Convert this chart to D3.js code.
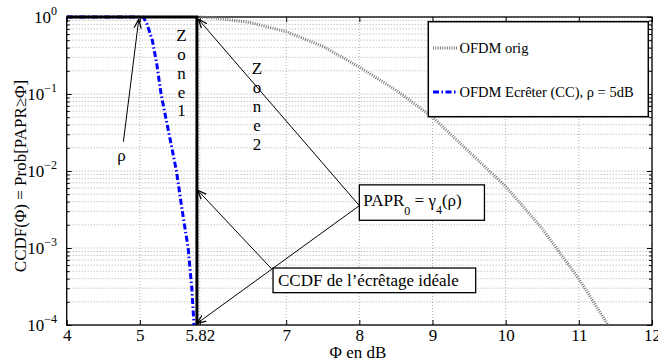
<!DOCTYPE html>
<html><head><meta charset="utf-8">
<script src="https://cdn.jsdelivr.net/npm/d3@7"></script>
<style>body{margin:0;background:#fff}svg{display:block}text{font-family:"Liberation Serif","Times New Roman",serif;fill:#000}</style>
</head><body><svg id="c" width="658" height="362" font-family="Liberation Serif"></svg>
<script>
// ---- data ----
const xTickValues = [4, 5, 5.82, 7, 8, 9, 10, 11, 12];
const xTickLabels = ["4", "5", "5.82", "7", "8", "9", "10", "11", "12"];
const yDecades = [0, -1, -2, -3, -4];
const yTickLabels = ["0", "\u22121", "\u22122", "\u22123", "\u22124"];
// OFDM orig: [Φ dB, log10 CCDF]
const origPhi = [5.82, 6.0, 6.5, 7.0, 7.5, 8.0, 8.5, 9.0, 9.5, 10.0, 10.5, 11.0, 11.4];
const origLog = [0, -0.01, -0.07, -0.19, -0.38, -0.65, -0.95, -1.3, -1.75, -2.2, -2.75, -3.4, -4.0];
// OFDM clipped (CC), rho = 5 dB
const clipPhi = [4.0, 5.0, 5.05, 5.1, 5.17, 5.23, 5.29, 5.4, 5.5, 5.58, 5.66, 5.71, 5.74];
const clipVal = [1, 1, 0.99, 0.8, 0.5, 0.25, 0.1, 0.03, 0.01, 0.003, 0.001, 3e-4, 1e-4];
// ideal clipping CCDF
const idealPhi = [4.0, 5.78, 5.78];
const idealVal = [1, 1, 1e-4];
const seriesNames = ["OFDM orig", "OFDM Ecrêter (CC), \u03c1 = 5dB"];

const svg = d3.select("#c");
const L = 66.7, R = 652, T = 17, B = 325;
const x = d3.scaleLinear().domain([4, 12]).range([L, R]);
const y = d3.scaleLog().domain([1e-4, 1]).range([B, T]);
const FF = "Liberation Serif";

// grid
const minors = [];
for (let d = -4; d < 0; d++) for (let k = 1; k <= 9; k++) minors.push(k * Math.pow(10, d));
minors.push(1);
const grid = svg.append("g").attr("stroke", "#999").attr("stroke-width", 0.8).attr("stroke-dasharray", "1,2");
grid.selectAll("line.gx").data(xTickValues).join("line")
  .attr("x1", d => x(d)).attr("x2", d => x(d)).attr("y1", T).attr("y2", B);
grid.selectAll("line.gy").data(minors).join("line")
  .attr("x1", L).attr("x2", R).attr("y1", d => y(d)).attr("y2", d => y(d));

// axes ticks (inward)
const axB = d3.axisBottom(x).tickValues(xTickValues).tickSizeInner(-5).tickSizeOuter(0).tickPadding(4)
  .tickFormat((d, i) => xTickLabels[i]);
const gB = svg.append("g").attr("transform", `translate(0,${B})`).call(axB);
gB.attr("font-family", FF);
gB.selectAll("text").attr("font-size", 17).attr("font-family", FF);
const axT = d3.axisTop(x).tickValues(xTickValues).tickSizeInner(-5).tickSizeOuter(0).tickFormat("");
svg.append("g").attr("transform", `translate(0,${T})`).call(axT);
const minorOnly = minors.filter(v => !yDecades.some(d => Math.abs(Math.log10(v) - d) < 1e-9));
const axL = d3.axisLeft(y).tickValues(yDecades.map(d => Math.pow(10, d))).tickSizeInner(-5).tickSizeOuter(0).tickFormat("");
svg.append("g").attr("transform", `translate(${L},0)`).call(axL);
svg.append("g").attr("transform", `translate(${L},0)`).call(d3.axisLeft(y).tickValues(minorOnly).tickSizeInner(-3).tickSizeOuter(0).tickFormat(""));
svg.append("g").attr("transform", `translate(${R},0)`).call(d3.axisRight(y).tickValues(yDecades.map(d => Math.pow(10, d))).tickSizeInner(-5).tickSizeOuter(0).tickFormat(""));
svg.append("g").attr("transform", `translate(${R},0)`).call(d3.axisRight(y).tickValues(minorOnly).tickSizeInner(-3).tickSizeOuter(0).tickFormat(""));
svg.selectAll(".domain").remove();
svg.selectAll(".tick line").attr("stroke", "#000");

// y tick labels
const yl = svg.append("g").attr("font-size", 17).attr("font-family", FF);
yDecades.forEach((d, i) => {
  const t = yl.append("text").attr("x", 57).attr("y", y(Math.pow(10, d)) + 6).attr("text-anchor", "end");
  t.append("tspan").text("10");
  t.append("tspan").attr("dy", -8).attr("font-size", 12).text(yTickLabels[i]);
});

// frame
svg.append("rect").attr("x", L).attr("y", T).attr("width", R - L).attr("height", B - T)
  .attr("fill", "none").attr("stroke", "#000").attr("stroke-width", 1.3);

// series
const lineLog = d3.line().x(d => x(d[0])).y(d => y(Math.pow(10, d[1])));
const lineV = d3.line().x(d => x(d[0])).y(d => y(d[1]));
svg.append("path").attr("d", lineLog(d3.zip(origPhi, origLog))).attr("fill", "none")
  .attr("stroke", "#7a7a7a").attr("stroke-width", 3).attr("stroke-dasharray", "1,1.3");
svg.append("path").attr("d", lineV(d3.zip(clipPhi, clipVal))).attr("fill", "none")
  .attr("stroke", "#0000ff").attr("stroke-width", 3).attr("stroke-dasharray", "6,2.5,1.5,2.5");
svg.append("path").attr("d", lineV(d3.zip(idealPhi, idealVal))).attr("fill", "none")
  .attr("stroke", "#000").attr("stroke-width", 3);

// arrows
const defs = svg.append("defs");
defs.append("marker").attr("id", "ah").attr("viewBox", "0 0 10 10").attr("refX", 10).attr("refY", 5)
  .attr("markerWidth", 9).attr("markerHeight", 9).attr("markerUnits", "userSpaceOnUse").attr("orient", "auto")
  .append("path").attr("d", "M0,1 L10,5 L0,9").attr("fill", "none").attr("stroke", "#000").attr("stroke-width", 1.4);
function arrow(p0, l0, p1, l1) {
  svg.append("line").attr("x1", x(p0)).attr("y1", y(Math.pow(10, l0))).attr("x2", x(p1)).attr("y2", y(Math.pow(10, l1)))
    .attr("stroke", "#000").attr("stroke-width", 1).attr("marker-end", "url(#ah)");
}
arrow(4.775, -1.62, 4.985, -0.03);
arrow(8.0, -2.45, 5.8, -0.03);
arrow(8.0, -2.45, 5.78, -3.98);
arrow(6.80, -3.27, 5.79, -2.25);

// annotation texts
const ann = svg.append("g").attr("font-family", FF).attr("font-size", 17);
ann.append("text").attr("x", x(4.75)).attr("y", y(Math.pow(10, -1.79)) + 6).attr("text-anchor", "middle").text("\u03c1");
function vertical(word, phi, log0) {
  word.split("").forEach((c, i) => {
    ann.append("text").attr("x", x(phi)).attr("y", y(Math.pow(10, log0 - i * 0.245)) + 6)
      .attr("text-anchor", "middle").text(c);
  });
}
vertical("Zone1", 5.57, -0.234);
vertical("Zone2", 6.60, -0.666);

function box(p0, l0, p1, l1) {
  ann.append("rect").attr("x", x(p0)).attr("y", y(Math.pow(10, l0))).attr("width", x(p1) - x(p0))
    .attr("height", y(Math.pow(10, l1)) - y(Math.pow(10, l0))).attr("fill", "#fff").attr("stroke", "#000").attr("stroke-width", 1.3);
}
box(8.0, -2.18, 9.71, -2.64);
const pt = ann.append("text").attr("x", x(8.0) + 4).attr("y", y(Math.pow(10, -2.41)) + 3);
pt.append("tspan").text("PAPR");
pt.append("tspan").attr("dy", 9).attr("font-size", 12).text("0");
pt.append("tspan").attr("dy", -9).text(" = \u03b3");
pt.append("tspan").attr("dy", 8).attr("font-size", 12).text("4");
pt.append("tspan").attr("dy", -8).text("(\u03c1)");
box(6.82, -3.26, 9.59, -3.58);
ann.append("text").attr("x", x(6.82) + 5).attr("y", y(Math.pow(10, -3.42)) + 6).text("CCDF de l\u2019\u00e9cr\u00eatage id\u00e9ale");

// legend
const lg = svg.append("g").attr("font-family", FF);
lg.append("rect").attr("x", 428.3).attr("y", 21.7).attr("width", 220).attr("height", 95)
  .attr("fill", "#fff").attr("stroke", "#000").attr("stroke-width", 1.5);
lg.append("line").attr("x1", 433).attr("x2", 458).attr("y1", 48).attr("y2", 48)
  .attr("stroke", "#7a7a7a").attr("stroke-width", 3).attr("stroke-dasharray", "1,1.3");
lg.append("line").attr("x1", 433).attr("x2", 458).attr("y1", 92).attr("y2", 92)
  .attr("stroke", "#0000ff").attr("stroke-width", 3).attr("stroke-dasharray", "6,2.5,1.5,2.5");
lg.append("text").attr("x", 459.5).attr("y", 53).attr("font-size", 14.5).text(seriesNames[0]);
lg.append("text").attr("x", 459.5).attr("y", 97).attr("font-size", 14.5).text(seriesNames[1]);

// axis labels
const al = svg.append("g").attr("font-family", FF).attr("font-size", 17);
al.append("text").attr("x", 358).attr("y", 358).attr("text-anchor", "middle").text("\u03a6 en dB");
al.append("text").attr("transform", "translate(26,176) rotate(-90)").attr("text-anchor", "middle")
  .text("CCDF(\u03a6) = Prob[PAPR\u2265\u03a6]");
</script></body></html>
